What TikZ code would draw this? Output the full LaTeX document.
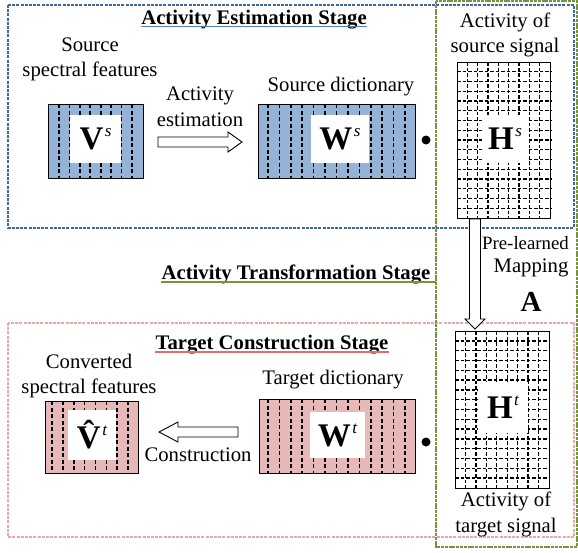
\documentclass[tikz,border=0pt]{standalone}
\usepackage{fontspec}
\setmainfont{Liberation Serif}
\usetikzlibrary{calc}
\definecolor{blfill}{HTML}{95B3D7}
\definecolor{pkfill}{HTML}{E6B9B8}
\definecolor{blline}{HTML}{41689C}
\definecolor{bluline}{HTML}{4F81BD}
\definecolor{grline}{HTML}{77933C}
\definecolor{pkline}{HTML}{E6AAAA}
\definecolor{pkuline}{HTML}{E07070}
\newcommand{\mymat}[2]{{\fontsize{33}{33}\selectfont\bfseries #1}\kern1.5pt\raisebox{13pt}{\fontsize{17}{17}\selectfont\itshape #2}}
\begin{document}
\begin{tikzpicture}[x=1pt,y=-1pt,
  lbl/.style={font=\fontsize{20.7}{25.5}\selectfont, align=center, inner sep=0},
  stagetitle/.style={font=\fontsize{20.7}{25}\selectfont\bfseries, inner sep=0},
  dline/.style={dash pattern=on 4pt off 2.5pt, line width=1.6pt},
  gline/.style={dash pattern=on 3.5pt off 2pt, line width=1.4pt},
  bluebox/.style={draw=black, line width=0.8pt, fill=blfill, inner sep=0, anchor=north west},
  pinkbox/.style={draw=black, line width=0.8pt, fill=pkfill, inner sep=0, anchor=north west},
  gridbox/.style={draw=black, line width=0.8pt, fill=white, inner sep=0, anchor=north west},
  hole/.style={fill=white, inner sep=0},
  barrow/.style={draw=black, fill=white, line width=0.9pt},
  dot/.style={circle, fill=black, inner sep=0, minimum size=9pt},
  frameline/.style={line width=1.5pt, dash pattern=on 3pt off 1.2pt}
]
\useasboundingbox (0,0) rectangle (578,552);

% stage frames
\draw[frameline, draw=blline] (8,5) rectangle (574,228);
\draw[frameline, draw=pkline] (8,323) rectangle (574,537);
\draw[line width=1.3pt, draw=grline, dash pattern=on 3pt off 0.8pt] (436,1) rectangle (577,547);
\coordinate (gl) at (436,282);

% titles
\node[stagetitle, anchor=base] (t1) at (254,24) {Activity Estimation Stage};
\draw[bluline, line width=1.2pt] ($(t1.base west)+(0,2.5)$) -- ($(t1.base east)+(0,2.5)$);
\node[stagetitle, anchor=base] (t2) at (296,279.5) {Activity Transformation Stage};
\draw[grline, line width=1.2pt] ($(t2.base west)+(0,2.5)$) -- (gl);
\node[stagetitle, anchor=base] (t3) at (272,349.5) {Target Construction Stage};
\draw[pkuline, line width=1.2pt] ($(t3.base west)+(0,2.5)$) -- ($(t3.base east)+(0,2.5)$);

% V^s block
\node[bluebox, minimum width=95pt, minimum height=74pt] (Vs) at (48,104) {};
\foreach \k in {0,...,7}
  \draw[dline] ($(Vs.north west)+(11+\k*10.43,0)$) -- ($(Vs.south west)+(11+\k*10.43,0)$);
\node[hole, minimum width=51pt, minimum height=48pt] (Vsl) at (95.5,139) {\mymat{V}{s}};

% W^s block
\node[bluebox, minimum width=157pt, minimum height=74pt] (Ws) at (258,104) {};
\foreach \k in {0,...,12}
  \draw[dline] ($(Ws.north west)+(10+\k*11.42,0)$) -- ($(Ws.south west)+(10+\k*11.42,0)$);
\node[hole, minimum width=58pt, minimum height=48pt] (Wsl) at (340,139) {\mymat{W}{s}};
\node[dot] (d1) at (426,140) {};

% H^s block
\node[gridbox, minimum width=93pt, minimum height=156pt] (Hs) at (457,62) {};
\foreach \k in {1,...,8}
  \draw[gline] ($(Hs.north west)+(\k*10.33,0)$) -- ($(Hs.south west)+(\k*10.33,0)$);
\foreach \k in {1,...,15}
  \draw[gline] ($(Hs.north west)+(0,\k*9.75)$) -- ($(Hs.north east)+(0,\k*9.75)$);
\node[hole, minimum width=46pt, minimum height=48pt] (Hsl) at (505,139) {\mymat{H}{s}};
\draw[line width=0.8pt] (Hs.north west) rectangle (Hs.south east);

% Vhat^t block
\node[pinkbox, minimum width=93pt, minimum height=72pt] (Vt) at (45,401) {};
\foreach \k in {0,...,7}
  \draw[dline] ($(Vt.north west)+(7+\k*10.86,0)$) -- ($(Vt.south west)+(7+\k*10.86,0)$);
\node[hole, minimum width=48pt, minimum height=50pt] (Vtl) at (92,435) {\mymat{\^{V}}{t}};

% W^t block
\node[pinkbox, minimum width=156pt, minimum height=74pt] (Wt) at (259,399) {};
\foreach \k in {0,...,12}
  \draw[dline] ($(Wt.north west)+(9+\k*11.42,0)$) -- ($(Wt.south west)+(9+\k*11.42,0)$);
\node[hole, minimum width=55pt, minimum height=46pt] (Wtl) at (337.5,435) {\mymat{W}{t}};
\node[dot] (d2) at (426,442) {};

% H^t block
\node[gridbox, minimum width=94pt, minimum height=157pt] (Ht) at (455,331) {};
\foreach \k in {1,...,8}
  \draw[gline] ($(Ht.north west)+(\k*10.44,0)$) -- ($(Ht.south west)+(\k*10.44,0)$);
\foreach \k in {1,...,15}
  \draw[gline] ($(Ht.north west)+(0,\k*9.81)$) -- ($(Ht.north east)+(0,\k*9.81)$);
\node[hole, minimum width=50pt, minimum height=51pt] (Htl) at (503,407.5) {\mymat{H}{t}};
\draw[line width=0.8pt] (Ht.north west) rectangle (Ht.south east);

% labels
\node[lbl] (l1) at (90,59.5) {Source\\spectral features};
\node[lbl] (l2) at (200,106.5) {Activity\\estimation};
\node[lbl] (l3) at (341,87) {Source dictionary};
\node[lbl] (l4) at (505,35) {Activity of\\source signal};
\node[lbl, font=\fontsize{18.8}{25.5}\selectfont] (l5a) at (525.5,243) {Pre-learned};
\node[lbl] (l5b) at (531,268) {Mapping};
\node[inner sep=0, font=\fontsize{29}{29}\selectfont\bfseries] (lA) at (531,302) {A};
\node[lbl] (l6) at (89,376) {Converted\\spectral features};
\node[lbl] (l7) at (333,380) {Target dictionary};
\node[lbl] (l8) at (198,455) {Construction};
\node[lbl] (l9) at (506,514.5) {Activity of\\target signal};

% block arrows
\coordinate (ea) at (158,142);
\coordinate (eb) at (242,142);
\draw[barrow] ($(ea)+(0,-5)$) -- ($(eb)+(-14,-5)$) -- ($(eb)+(-14,-10)$) -- (eb)
  -- ($(eb)+(-14,10)$) -- ($(eb)+(-14,5)$) -- ($(ea)+(0,5)$) -- cycle;

\coordinate (da) at ($(Hs.south west)+(18,0)$);
\coordinate (db) at ($(Ht.north west)+(20,-2)$);
\draw[barrow] ($(da)+(-5.5,0)$) -- ($(db)+(-5.5,-10)$) -- ($(db)+(-10,-10)$) -- (db)
  -- ($(db)+(10,-10)$) -- ($(db)+(5.5,-10)$) -- ($(da)+(5.5,0)$) -- cycle;

\coordinate (ca) at (238,432);
\coordinate (cb) at (159,432);
\draw[barrow] ($(ca)+(0,-5)$) -- ($(cb)+(19,-5)$) -- ($(cb)+(19,-10)$) -- (cb)
  -- ($(cb)+(19,10)$) -- ($(cb)+(19,5)$) -- ($(ca)+(0,5)$) -- cycle;
\end{tikzpicture}
\end{document}
